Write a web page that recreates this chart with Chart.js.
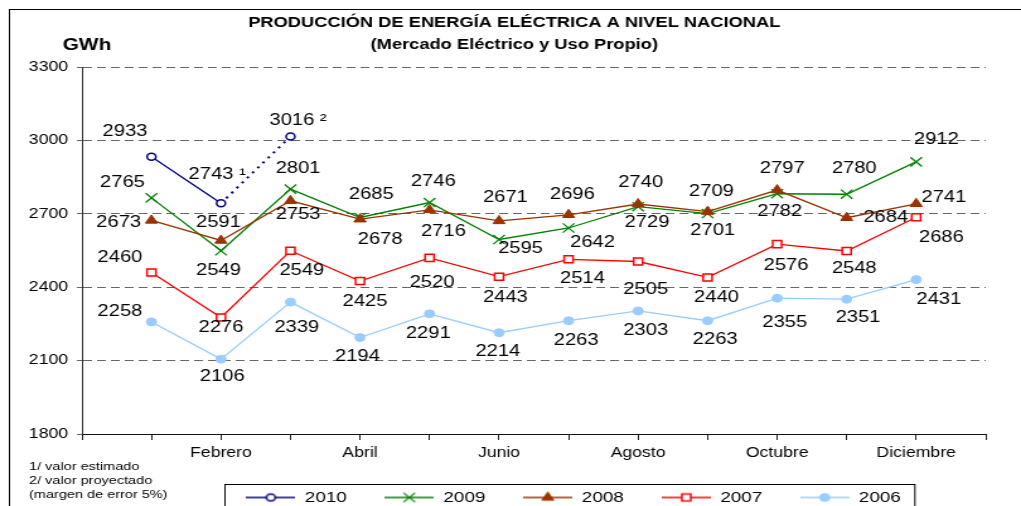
<!DOCTYPE html>
<html>
<head>
<meta charset="utf-8">
<script src="https://cdn.jsdelivr.net/npm/chart.js@4.4.1/dist/chart.umd.min.js"></script>
<style>
  html, body { margin: 0; padding: 0; background: #fff; overflow: hidden; }
  /* the source picture is stretched sideways, so the whole canvas is too */
  #chart { display: block; transform: scaleX(1.2605); transform-origin: 0 0; }
</style>
</head>
<body>
<canvas id="chart" width="810" height="515"></canvas>
<script>
// data
const months = ['Enero', 'Febrero', 'Marzo', 'Abril', 'Mayo', 'Junio', 'Julio', 'Agosto', 'Septiembre', 'Octubre', 'Noviembre', 'Diciembre'];
const values2010 = [2933, 2743, 3016];
const notes2010 = ['', ' ¹', ' ²'];   // 1/ estimado, 2/ proyectado
const values2009 = [2765, 2549, 2801, 2685, 2746, 2595, 2642, 2729, 2701, 2782, 2780, 2912];
const values2008 = [2673, 2591, 2753, 2678, 2716, 2671, 2696, 2740, 2709, 2797, 2684, 2741];
const values2007 = [2460, 2276, 2549, 2425, 2520, 2443, 2514, 2505, 2440, 2576, 2548, 2686];
const values2006 = [2258, 2106, 2339, 2194, 2291, 2214, 2263, 2303, 2263, 2355, 2351, 2431];
const yTicks = [1800, 2100, 2400, 2700, 3000, 3300];
const footnotes = ['1/ valor estimado', '2/ valor proyectado', '(margen de error 5%)'];

// where each value label sits relative to its point (canvas px)
const labelOffsets = {
  '2010': [[-21, -25], [-3, -29], [6, -16]],
  '2009': [[-23, -15], [-2, 20], [6, -20], [9, -23], [3, -21], [17, 9], [19, 15], [7, 16], [4, 17], [2, 18], [6, -26], [16, -22]],
  '2008': [[-26, 2], [-2, -18], [6, 14], [16, 20], [11, 22], [5, -23], [3, -20], [2, -21], [3, -20], [4, -21], [31, 0], [22, -6]],
  '2007': [[-25, -15], [0, 10], [9, 20], [4, 21], [2, 25], [5, 21], [11, 19], [6, 28], [7, 20], [7, 21], [6, 18], [20, 20]],
  '2006': [[-25, -10], [1, 17], [5, 25], [-2, 19], [-1, 20], [-1, 19], [6, 20], [6, 20], [6, 19], [6, 24], [9, 18], [18, 20]]
};

const FONT = '"Liberation Sans", Arial, sans-serif';
Chart.defaults.font.family = FONT;
Chart.defaults.color = '#000';

const series = [
  { label: '2010', values: values2010, color: '#000080', fill: '#ffffff', shape: 'circle', radius: 3.5, bw: 1.5, order: 0 },
  { label: '2009', values: values2009, color: '#008000', fill: '#008000', shape: 'crossRot', radius: 6.5, bw: 1.3, order: 1 },
  { label: '2008', values: values2008, color: '#993300', fill: '#993300', shape: 'triangle', radius: 5.5, bw: 1, order: 0 },
  { label: '2007', values: values2007, color: '#ff0000', fill: '#ffffff', shape: 'rect', radius: 5, bw: 1.5, order: 1 },
  { label: '2006', values: values2006, color: '#99ccff', fill: '#99ccff', shape: 'circle', radius: 4, bw: 1, order: 1 }
];

function legendIcon(s) {
  const c = document.createElement('canvas');
  c.width = 39; c.height = 14;
  const g = c.getContext('2d');
  g.strokeStyle = s.color; g.lineWidth = 1.3;
  g.beginPath(); g.moveTo(0, 7); g.lineTo(39, 7); g.stroke();
  g.fillStyle = s.fill; g.lineWidth = s.bw;
  if (Chart.helpers && Chart.helpers.drawPoint) {
    Chart.helpers.drawPoint(g, { pointStyle: s.shape, radius: s.radius, borderWidth: s.bw, rotation: 0 }, 19.5, 7);
  }
  return c;
}

const datasets = series.map(s => ({
  label: s.label,
  data: s.values.map((v, i) => ({ x: i, y: v })),
  borderColor: s.color,
  borderWidth: 1.3,
  pointStyle: s.shape,
  pointRadius: s.radius,
  pointBackgroundColor: s.fill,
  pointBorderColor: s.color,
  pointBorderWidth: s.bw,
  tension: 0,
  order: s.order,
  // 2010: the projected stretch (Feb -> Mar) is dotted
  segment: s.label === '2010' ? {
    borderDash: c => c.p0DataIndex >= 1 ? [2, 4.5] : undefined,
    borderWidth: c => c.p0DataIndex >= 1 ? 2 : undefined
  } : undefined
}));

const chartText = {
  id: 'chartText',
  afterDraw(chart) {
    const ctx = chart.ctx;
    ctx.save();
    ctx.strokeStyle = '#000'; ctx.lineWidth = 1;
    ctx.strokeRect(7.5, 9.5, 900, 600);
    ctx.fillStyle = '#000';
    ctx.textAlign = 'center'; ctx.textBaseline = 'middle';
    ctx.font = 'bold 14.5px ' + FONT;
    ctx.fillText('PRODUCCIÓN DE ENERGÍA ELÉCTRICA A NIVEL NACIONAL', 408, 23);
    ctx.fillText('(Mercado Eléctrico y Uso Propio)', 408, 45);
    ctx.font = 'bold 16.5px ' + FONT;
    ctx.fillText('GWh', 69, 45);
    ctx.textAlign = 'left';
    ctx.font = '11.5px ' + FONT;
    footnotes.forEach((t, i) => ctx.fillText(t, 23, 467 + i * 13.7));
    // frame round the legend
    const hb = chart.legend.legendHitBoxes;
    if (hb && hb.length) {
      const l = hb[0].left - 17, r = hb[hb.length - 1].left + hb[hb.length - 1].width + 11;
      ctx.strokeRect(Math.round(l) + 0.5, 484.5, r - l, 60);
    }
    ctx.restore();
  }
};

const valueLabels = {
  id: 'valueLabels',
  afterDatasetsDraw(chart) {
    const ctx = chart.ctx;
    ctx.save();
    ctx.font = '16px ' + FONT;
    ctx.fillStyle = '#000';
    ctx.textAlign = 'center'; ctx.textBaseline = 'middle';
    chart.data.datasets.forEach((ds, d) => {
      const offs = labelOffsets[ds.label];
      chart.getDatasetMeta(d).data.forEach((pt, i) => {
        let txt = String(ds.data[i].y);
        if (ds.label === '2010') txt += notes2010[i];
        ctx.fillText(txt, pt.x + offs[i][0], pt.y + offs[i][1]);
      });
    });
    ctx.restore();
  }
};

// the legend in the source sits right of centre
const legendShift = {
  id: 'legendShift',
  afterLayout(chart) {
    chart.legend.left += 64;
    chart.legend.right += 64;
  }
};

new Chart(document.getElementById('chart'), {
  type: 'line',
  data: { datasets },
  options: {
    responsive: false,
    animation: false,
    layout: { padding: { top: 67, right: 28, left: 0, bottom: 0 } },
    scales: {
      x: {
        type: 'linear',
        min: -1,
        max: months.length,
        afterBuildTicks: s => { s.ticks = Array.from({ length: months.length + 2 }, (_, i) => ({ value: i - 1 })); },
        afterFit: s => { s.height = 26; },
        ticks: {
          autoSkip: false, maxRotation: 0, padding: 5,
          font: { size: 14 },
          callback: v => (v % 2 === 1 && v < months.length) ? months[v] : ''
        },
        grid: { drawOnChartArea: false, drawTicks: true, tickLength: 6, tickColor: '#222' },
        border: { color: '#111', width: 1 }
      },
      y: {
        min: yTicks[0],
        max: yTicks[yTicks.length - 1],
        afterBuildTicks: s => { s.ticks = yTicks.map(v => ({ value: v })); },
        afterFit: s => { s.width = 65; },
        ticks: { padding: 7, font: { size: 14 }, callback: v => String(v) },
        grid: { color: '#666', lineWidth: 1, tickLength: 4, tickColor: '#666' },
        border: { color: '#333', width: 1, dash: [7, 4] }
      }
    },
    plugins: {
      tooltip: { enabled: false },
      legend: {
        position: 'bottom',
        labels: {
          usePointStyle: true,
          pointStyleWidth: 39,
          boxHeight: 15,
          padding: 30,
          font: { size: 15 },
          color: '#000',
          generateLabels: chart => series.map((s, i) => ({
            text: s.label,
            fillStyle: s.fill,
            strokeStyle: s.color,
            lineWidth: 0,
            pointStyle: legendIcon(s),
            hidden: false,
            datasetIndex: i,
            fontColor: '#000'
          }))
        }
      }
    }
  },
  plugins: [chartText, valueLabels, legendShift]
});
</script>
</body>
</html>
